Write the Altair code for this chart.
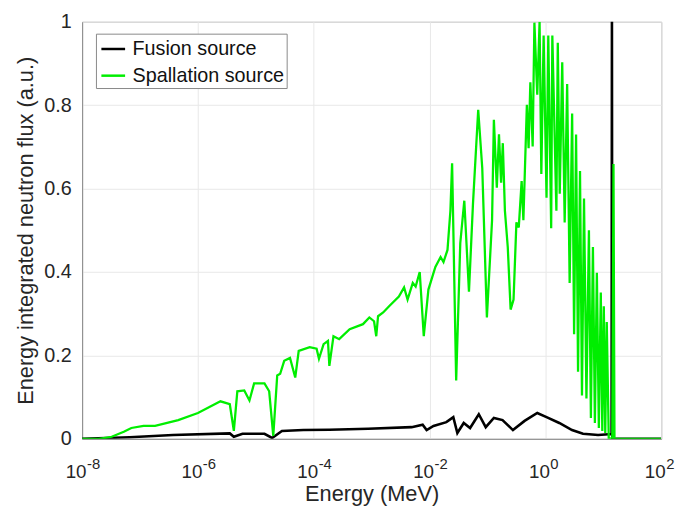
import altair as alt
import pandas as pd

# ---- data ----
fusion_energy = [1e-8, 6.61e-8, 3.72e-7, 3.55e-6, 4.17e-6, 5.89e-6, 1.41e-5, 1.91e-5,
                 2.82e-5, 6.61e-5, 1.86e-4, 8.71e-4, 4.90e-3, 7.59e-3, 8.91e-3, 1.17e-2,
                 1.95e-2, 2.57e-2, 3.02e-2, 3.89e-2, 5.01e-2, 7.08e-2, 9.33e-2, 0.129,
                 0.182, 0.275, 0.437, 0.724, 1.047, 1.738, 2.884, 4.467, 8.128, 12.3,
                 13.9, 14.1, 14.3, 100]
fusion_flux = [0.0, 0.004, 0.009, 0.013, 0.005, 0.012, 0.012, 0.002,
               0.019, 0.021, 0.022, 0.024, 0.028, 0.034, 0.021, 0.031,
               0.040, 0.052, 0.014, 0.038, 0.026, 0.059, 0.028, 0.050,
               0.045, 0.021, 0.043, 0.062, 0.052, 0.038, 0.021, 0.012, 0.009, 0.011,
               0.011, 1.05, 0.0, 0.0]

spall_energy = [1.00e-8, 1.95e-8, 3.24e-8, 5.25e-8, 7.08e-8, 1.15e-7, 1.82e-7, 4.57e-7,
                1.00e-6, 2.45e-6, 3.55e-6, 4.17e-6, 4.79e-6, 6.31e-6, 7.76e-6, 9.33e-6,
                1.41e-5, 1.70e-5, 2.00e-5, 2.34e-5, 2.63e-5, 3.09e-5, 3.89e-5, 4.79e-5,
                5.50e-5, 8.51e-5, 1.12e-4, 1.23e-4, 1.48e-4, 1.76e-4, 1.86e-4, 2.19e-4,
                2.75e-4, 4.17e-4, 7.08e-4, 9.12e-4, 1.10e-3, 1.20e-3, 1.29e-3, 1.58e-3,
                2.00e-3, 2.95e-3, 3.63e-3, 4.17e-3, 5.13e-3, 5.75e-3, 6.76e-3, 7.94e-3,
                9.55e-3, 1.26e-2, 1.55e-2, 1.74e-2, 2.04e-2, 2.29e-2, 2.45e-2, 2.88e-2,
                3.39e-2, 3.98e-2, 4.79e-2, 5.62e-2, 6.92e-2, 8.13e-2, 9.77e-2, 0.120,
                0.129, 0.145, 0.158, 0.172, 0.184, 0.200, 0.224, 0.251,
                0.282, 0.316, 0.347, 0.389, 0.417, 0.479, 0.513, 0.550,
                0.603, 0.646, 0.724, 0.794, 0.851, 0.933, 1.047, 1.122,
                1.259, 1.318, 1.549, 1.637, 1.770, 1.954, 2.153, 2.377,
                2.624, 2.897, 3.133, 3.388, 3.664, 3.963, 4.285, 4.645,
                5.117, 5.649, 6.109, 6.622, 7.161, 7.745, 8.375, 9.057,
                9.616, 10.21, 10.81, 11.48, 12.42, 14.3, 15.0, 15.6, 100]
spall_flux = [0.000, 0.000, 0.005, 0.017, 0.026, 0.031, 0.031, 0.045,
              0.062, 0.090, 0.083, 0.019, 0.114, 0.116, 0.092, 0.133,
              0.133, 0.114, 0.007, 0.152, 0.156, 0.187, 0.194, 0.147,
              0.211, 0.220, 0.216, 0.192, 0.227, 0.235, 0.175, 0.246,
              0.239, 0.263, 0.275, 0.291, 0.282, 0.246, 0.294, 0.303,
              0.318, 0.341, 0.363, 0.334, 0.374, 0.365, 0.400, 0.246,
              0.358, 0.412, 0.436, 0.424, 0.453, 0.547, 0.661, 0.140,
              0.469, 0.571, 0.353, 0.564, 0.789, 0.649, 0.291, 0.524,
              0.765, 0.602, 0.730, 0.614, 0.709, 0.547, 0.460, 0.310,
              0.334, 0.519, 0.507, 0.618, 0.524, 0.801, 0.697, 0.855,
              0.701, 0.998, 0.825, 1.000, 0.635, 0.967, 0.578, 0.967,
              0.505, 0.967, 0.547, 0.950, 0.588, 0.903, 0.519, 0.851,
              0.374, 0.780, 0.251, 0.730, 0.161, 0.642, 0.104, 0.576,
              0.097, 0.500, 0.050, 0.460, 0.038, 0.398, 0.026, 0.351,
              0.019, 0.318, 0.014, 0.280, 0.002, 0.000, 0.659, 0.000, 0.000]

sources = ["Fusion source", "Spallation source"]
colors = ["#000000", "#00ee00"]

x_ticks = [1e-8, 1e-6, 1e-4, 1e-2, 1e0, 1e2]
x_tick_base = "10"
x_tick_exponents = ["-8", "-6", "-4", "-2", "0", "2"]
y_ticks = [0, 0.2, 0.4, 0.6, 0.8, 1.0]
y_tick_labels = ["0", "0.2", "0.4", "0.6", "0.8", "1"]

# ---- tables ----
df_f = pd.DataFrame({"energy": fusion_energy, "flux": fusion_flux, "source": sources[0]})
df_s = pd.DataFrame({"energy": spall_energy, "flux": spall_flux, "source": sources[1]})
df_exp = pd.DataFrame({"energy": x_ticks, "exp": x_tick_exponents})


def label_expr(vals, labels):
    expr = "''"
    for v, l in zip(reversed(vals), reversed(labels)):
        expr = f"abs(datum.value - {v}) < {abs(v) * 1e-6 + 1e-12} ? '{l}' : ({expr})"
    return expr


FONT = "Liberation Sans"
TXT = "#262626"

x_scale = alt.Scale(type="log", domain=[1e-8, 1e2], nice=False)
x_enc = alt.X("energy:Q", scale=x_scale,
              axis=alt.Axis(values=x_ticks, labelExpr=f"'{x_tick_base}'",
                            labelAlign="right", labelOffset=4, labelBaseline="top",
                            labelFontSize=19,
                            title="Energy (MeV)", grid=True, ticks=False,
                            labelPadding=24, titlePadding=5, labelFlush=False,
                            minExtent=40, maxExtent=40))
y_enc = alt.Y("flux:Q",
              scale=alt.Scale(domain=[0, 1], nice=False, zero=True),
              axis=alt.Axis(values=y_ticks, labelExpr=label_expr(y_ticks, y_tick_labels),
                            title="Energy integrated neutron flux (a.u.)", grid=True,
                            ticks=False, labelPadding=11, titlePadding=6,
                            minExtent=39, maxExtent=39))
c_enc = alt.Color("source:N",
                  scale=alt.Scale(domain=sources, range=colors),
                  legend=alt.Legend(title=None, orient="none", legendX=14, legendY=12,
                                    symbolType="stroke", symbolSize=576,
                                    symbolStrokeWidth=2.5, symbolOffset=2,
                                    labelFontSize=20,
                                    labelFont=FONT, labelColor="#111111",
                                    strokeColor="#888888", fillColor="white",
                                    padding=2, rowPadding=3, labelOffset=6,
                                    cornerRadius=0))

fus = alt.Chart(df_f).mark_line(strokeWidth=2.6, clip=True).encode(x=x_enc, y=y_enc, color=c_enc)
spa = alt.Chart(df_s).mark_line(strokeWidth=2.3, clip=True).encode(x=x_enc, y=y_enc, color=c_enc)
exps = alt.Chart(df_exp).mark_text(align="left", baseline="alphabetic", dx=5, dy=31,
                                   fontSize=15, font=FONT, color=TXT).encode(
    x=alt.X("energy:Q", scale=x_scale), y=alt.datum(0), text="exp:N")

chart = alt.layer(fus, spa, exps).properties(
    width=586, height=422,
    autosize=alt.AutoSizeParams(type="none"),
    padding={"left": 75, "top": 11, "right": 17, "bottom": 66},
).configure_view(
    stroke="#888888", strokeWidth=1
).configure_axis(
    labelFont=FONT, titleFont=FONT, labelFontSize=20, titleFontSize=22,
    titleFontWeight="normal", labelColor=TXT, titleColor=TXT,
    domainColor="#888888", gridColor="#e8e8e8", gridWidth=1,
)

chart.save("out.html", embed_options={"renderer": "svg", "actions": False})
